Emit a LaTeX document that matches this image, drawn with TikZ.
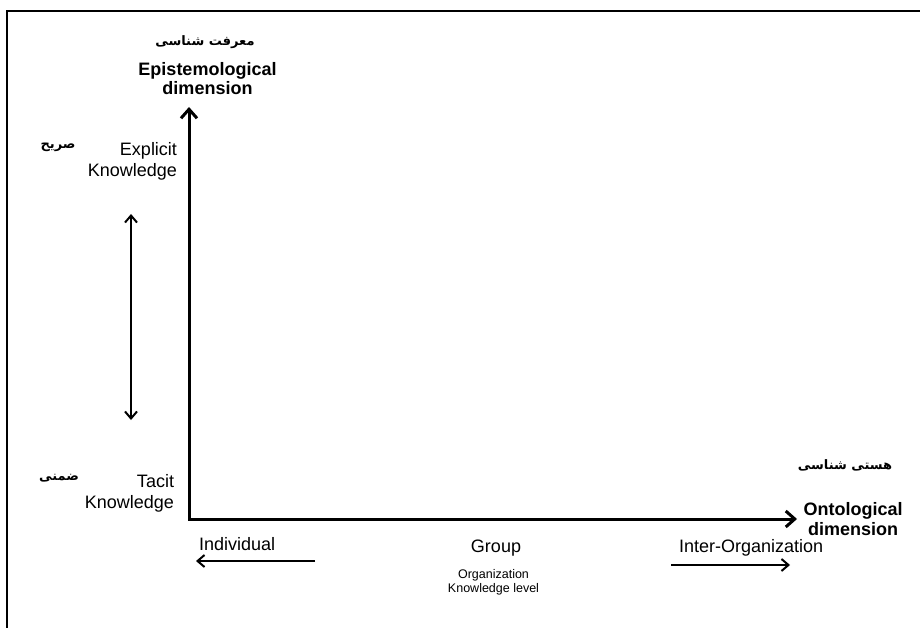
\documentclass[tikz,border=0pt]{standalone}
\usepackage{fontspec}
\setmainfont{Liberation Sans}
\newfontfamily\farsi[Script=Arabic]{DejaVu Sans}
\TeXXeTstate=1
\usetikzlibrary{arrows.meta}

\begin{document}
\begin{tikzpicture}[x=1pt,y=-1pt,
  every node/.style={inner sep=0pt, outer sep=0pt},
  lbl/.style={font=\fontsize{18}{21}\selectfont},
  lblright/.style={lbl, align=right, anchor=base east},
  dimtitle/.style={font=\fontsize{18}{19.5}\selectfont\bfseries, align=center, anchor=base},
  smalllbl/.style={font=\fontsize{12.5}{14}\selectfont, align=center, anchor=base},
  fa/.style={font=\fontsize{13}{15}\selectfont\farsi\bfseries},
  axis/.style={line width=3pt, line join=miter,
    {Straight Barb[length=9pt,width=16pt]}-{Straight Barb[length=9pt,width=16pt]}},
  levelarrow/.style={line width=2pt, -{Straight Barb[length=7pt,width=12pt]}},
  spanarrow/.style={line width=2pt,
    {Straight Barb[length=7pt,width=12pt]}-{Straight Barb[length=7pt,width=12pt]}},
  frame/.style={line width=2pt, line join=miter}
]
\useasboundingbox (0,0) rectangle (920,628);

% outer frame: top and left edges only
\coordinate (frameBL) at (7,628);
\coordinate (frameTL) at (7,11);
\coordinate (frameTR) at (920,11);
\draw[frame] (frameBL) -- (frameTL) -- (frameTR);

% axes
\coordinate (origin) at (189,519);
\coordinate (ytip) at (189,107);
\coordinate (xtip) at (797,519);
\draw[axis] (ytip) -- (origin) -- (xtip);

% vertical axis titles (multi-line nodes sit on the baseline of their last line)
\node[fa] (epifa) at (205,42) {\beginR معرفت شناسی\endR};
\node[dimtitle] (epi) at (207.5,95) {Epistemological\\dimension};

% knowledge types
\node[fa] (explicitfa) at (58,147) {\beginR صریح\endR};
\node[lblright] (explicit) at (177,177) {Explicit\\Knowledge};
\node[fa] (tacitfa) at (59,478) {\beginR ضمنی\endR};
\node[lblright] (tacit) at (174,508) {Tacit\\Knowledge};

% explicit <-> tacit span
\coordinate (spantop) at (131,214);
\coordinate (spanbot) at (131,420);
\draw[spanarrow] (spantop) -- (spanbot);

% horizontal axis titles
\node[fa] (ontofa) at (845,465) {\beginR هستی شناسی\endR};
\node[dimtitle] (onto) at (853,535) {Ontological\\dimension};

% ontological levels
\node[lbl, anchor=base west] (individual) at (199,550) {Individual};
\node[lbl, anchor=base] (group) at (496,552) {Group};
\node[lbl, anchor=base west] (interorg) at (679,552) {Inter-Organization};
\node[smalllbl] (orglevel) at (493.5,592) {Organization\\Knowledge level};

\coordinate (indstart) at (315,561);
\coordinate (indend) at (196,561);
\draw[levelarrow] (indstart) -- (indend);
\coordinate (interstart) at (671,565);
\coordinate (interend) at (790,565);
\draw[levelarrow] (interstart) -- (interend);
\end{tikzpicture}
\end{document}
